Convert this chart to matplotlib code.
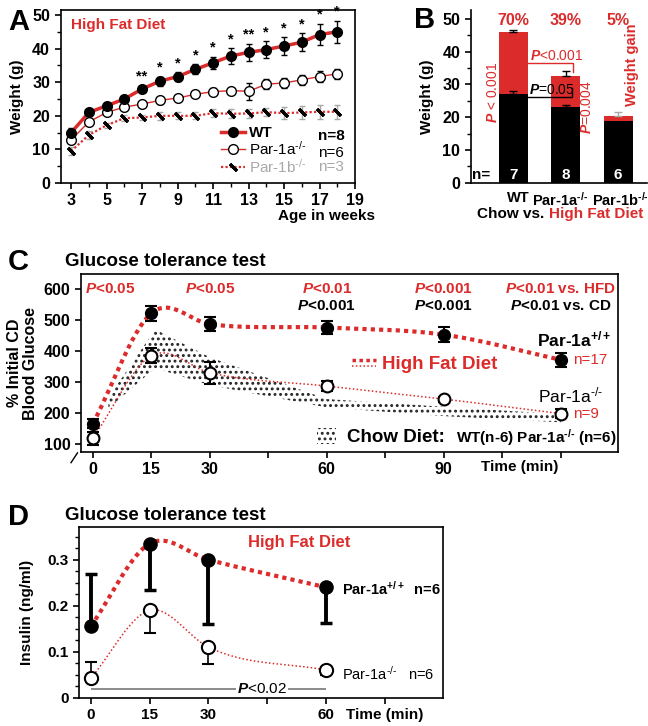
import numpy as np
import matplotlib
matplotlib.use('Agg')
import matplotlib.pyplot as plt
from matplotlib.lines import Line2D
from matplotlib.patches import Patch

plt.rcParams['font.family'] = ['Liberation Sans', 'DejaVu Sans']
plt.rcParams['font.weight'] = 'bold'
plt.rcParams['axes.labelweight'] = 'bold'
plt.rcParams['mathtext.fontset'] = 'custom'
plt.rcParams['mathtext.rm'] = 'Liberation Sans'
plt.rcParams['mathtext.it'] = 'Liberation Sans:italic'
plt.rcParams['mathtext.bf'] = 'Liberation Sans:bold'
plt.rcParams['mathtext.bfit'] = 'Liberation Sans:italic:bold'
plt.rcParams['mathtext.default'] = 'regular'
plt.rcParams['hatch.linewidth'] = 1.3
plt.rcParams['axes.linewidth'] = 1.2

RED = '#dc2b2b'
GRAY = '#a8a8a8'
KO = 'Par-1a$^{\u2010/\u2010}$'
KOB = 'Par-1b$^{\u2010/\u2010}$'
WTS = 'Par-1a$^{+/+}$'

# ---- panel A : body weight on high fat diet
weeks = [3, 4, 5, 6, 7, 8, 9, 10, 11, 12, 13, 14, 15, 16, 17, 18]
wt_w = [15.0, 21.0, 23.0, 25.0, 28.0, 30.3, 31.7, 33.8, 35.8, 37.8, 38.9, 39.7, 40.8, 41.9, 44.2, 45.0]
wt_e = [1.5, 0.8, 0.8, 0.9, 1.0, 1.3, 1.2, 1.5, 1.8, 2.3, 2.5, 2.5, 2.6, 2.7, 3.2, 3.3]
a_w = [12.8, 18.2, 21.0, 22.6, 23.5, 24.6, 25.3, 26.4, 27.2, 27.5, 27.3, 29.4, 29.8, 30.7, 31.7, 32.5]
a_e = [1.0, 1.0, 0.8, 0.7, 0.9, 1.0, 0.8, 0.8, 1.0, 0.8, 2.5, 1.5, 1.5, 1.5, 1.5, 1.5]
b_w = [9.5, 14.3, 17.2, 19.3, 19.5, 20.0, 20.0, 20.0, 20.8, 20.6, 20.7, 21.1, 20.8, 21.0, 21.2, 21.2]
b_e = [1.3, 1.2, 0.8, 0.8, 0.8, 1.2, 1.0, 1.0, 1.2, 1.3, 1.4, 1.3, 1.7, 2.0, 2.0, 2.0]
star_weeks = [7, 8, 9, 10, 11, 12, 13, 14, 15, 16, 17, 18]
star_marks = ['**', '*', '*', '*', '*', '*', '**', '*', '*', '*', '*', '*']

# ---- panel B : chow vs HFD weights
groups = ['WT', KO, KOB]
chow = [27.0, 23.0, 18.8]
chow_err = [1.0, 0.8, 0.0]
hfd = [46.0, 32.5, 20.5]
hfd_err = [0.7, 1.5, 1.1]
gain = ['70%', '39%', '5%']
n_mice = ['7', '8', '6']

# ---- panel C : glucose tolerance
t_c = [0, 15, 30, 60, 90, 120]
gtt_wt = [165, 522, 487, 476, 453, 372]
gtt_wt_e = [15, 25, 22, 22, 25, 22]
gtt_ko = [118, 385, 330, 287, 245, 198]
gtt_ko_e = [20, 25, 35, 15, 8, 15]
chow_t = [4, 16, 30, 60, 90, 120]
chow_hi = [250, 470, 380, 245, 220, 196]
chow_lo = [215, 345, 290, 218, 190, 170]

# ---- panel D : insulin
t_d = [0, 15, 30, 60]
ins_wt = [0.155, 0.335, 0.300, 0.240]
ins_wt_lo = [0.0, 0.100, 0.140, 0.078]
ins_wt_hi = [0.115, 0.0, 0.0, 0.0]
ins_ko = [0.042, 0.190, 0.110, 0.060]
ins_ko_lo = [0.0, 0.050, 0.037, 0.010]
ins_ko_hi = [0.035, 0.0, 0.0, 0.0]


def smooth(x, y):
    x = np.asarray(x, float)
    y = np.asarray(y, float)
    m = np.gradient(y, x)
    xs, ys = [], []
    t = np.linspace(0, 1, 60)
    for i in range(len(x) - 1):
        h = x[i + 1] - x[i]
        seg = ((2*t**3 - 3*t**2 + 1)*y[i] + (t**3 - 2*t**2 + t)*h*m[i]
               + (-2*t**3 + 3*t**2)*y[i + 1] + (t**3 - t**2)*h*m[i + 1])
        xs.append(x[i] + t*h)
        ys.append(seg)
    return np.concatenate(xs), np.concatenate(ys)


W, H = 648, 726
fig = plt.figure(figsize=(W/100, H/100), dpi=100)


def box(l, t, r, b):
    return [l/W, 1 - b/H, (r - l)/W, (b - t)/H]


def px(x, y):
    return x/W, 1 - y/H


# ================= A
ax = fig.add_axes(box(60.5, 10, 355, 183))
ax.errorbar(weeks, b_w, yerr=b_e, fmt='none', ecolor=GRAY, elinewidth=1, capsize=2.5)
ax.errorbar(weeks, a_w, yerr=a_e, fmt='none', ecolor='k', elinewidth=1, capsize=2.5)
ax.errorbar(weeks, wt_w, yerr=wt_e, fmt='none', ecolor='k', elinewidth=1, capsize=2.5)
hb, = ax.plot(weeks, b_w, ls=(0, (1, 1)), lw=1.6, color=RED, marker=(2, 2, 45),
              ms=7, mec='k', mew=2.2, label=KOB)
ha, = ax.plot(weeks, a_w, '-', lw=1, color=RED, marker='o', ms=7, mfc='white',
              mec='k', mew=1, label=KO)
hw, = ax.plot(weeks, wt_w, '-', lw=2.5, color=RED, marker='o', ms=7, mfc='k',
              mec='k', label='WT')
for wk, mk in zip(star_weeks, star_marks):
    i = weeks.index(wk)
    ax.text(wk, wt_w[i] + wt_e[i] + 0.6, mk, ha='center', va='bottom', fontsize=10.5)
ax.set_xlim(2.4, 19)
ax.set_ylim(0, 51.5)
ax.set_xticks(range(3, 20, 2))
ax.set_xticks(range(4, 19, 2), minor=True)
ax.set_yticks(range(0, 51, 10))
ax.set_yticks(range(5, 51, 10), minor=True)
ax.tick_params(direction='out', length=4, width=1.2, labelsize=11.5)
ax.tick_params(which='minor', direction='out', length=3, width=1)
ax.set_ylabel('Weight (g)', fontsize=11, labelpad=6)
ax.text(0.035, 0.89, 'High Fat Diet', color=RED, fontsize=11, transform=ax.transAxes)
leg = ax.legend(handles=[hw, ha, hb], loc='upper left', bbox_to_anchor=(0.545, 0.33),
                frameon=False, fontsize=11, handlelength=1.6, handletextpad=0.2,
                labelspacing=0.0, borderpad=0, borderaxespad=0)
lt = leg.get_texts()
lt[1].set_fontweight('normal')
lt[2].set_fontweight('normal')
lt[2].set_color(GRAY)
ax.text(0.874, 0.272, 'n=8', transform=ax.transAxes, fontsize=11, va='center')
ax.text(0.874, 0.175, 'n=6', transform=ax.transAxes, fontsize=11, va='center',
        fontweight='normal')
ax.text(0.874, 0.095, 'n=3', transform=ax.transAxes, fontsize=11, va='center',
        fontweight='normal', color=GRAY)
fig.text(*px(327, 216), 'Age in weeks', ha='center', va='center', fontsize=11)

# ================= B
ax = fig.add_axes(box(470.7, 10, 647, 182.7))
x = np.arange(len(groups))
ax.bar(x, hfd, 0.55, color=RED)
ax.bar(x, chow, 0.55, color='k')
for i in range(len(groups)):
    ec = GRAY if i == 2 else 'k'
    ax.errorbar(x[i], hfd[i], yerr=[[0], [hfd_err[i]]], fmt='none', ecolor=ec,
                elinewidth=1, capsize=3)
    if chow_err[i] > 0:
        ax.errorbar(x[i], chow[i], yerr=[[0], [chow_err[i]]], fmt='none', ecolor='k',
                    elinewidth=1, capsize=3)
    ax.text(x[i], 49.6, gain[i], color=RED, ha='center', va='center', fontsize=11.5)
    ax.text(x[i], 2.4, n_mice[i], color='white', ha='center', va='center', fontsize=11)
ax.text(-0.78, 2.4, 'n=', ha='left', va='center', fontsize=11)
ax.text(2.27, 36, 'Weight gain', color=RED, rotation=90, ha='center', va='center',
        fontsize=10.5)
ax.text(-0.38, 27.6, r'$\mathit{P}$ < 0.001', color=RED, rotation=90, ha='center',
        va='center', fontsize=10, fontweight='normal')
ax.plot([0.28, 1.14, 1.14], [36.5, 36.5, 33.8], color=RED, lw=1)
ax.text(0.82, 38.7, r'$\mathit{P}$<0.001', color=RED, ha='center', va='center',
        fontsize=10, fontweight='normal')
ax.plot([0.28, 1.13, 1.13], [26.1, 26.1, 29.0], color='k', lw=1)
ax.text(0.74, 28.2, r'$\mathit{P}$=0.05', color='k', ha='center', va='center',
        fontsize=10, fontweight='normal')
ax.text(1.40, 23, r'$\mathit{P}$=0.004', color=RED, rotation=90, ha='center',
        va='center', fontsize=10, fontweight='normal')
ax.set_xlim(-0.81, 2.55)
ax.set_ylim(0, 52.7)
ax.set_xticks([0.1, 0.9, 2.04])
ax.set_xticklabels(groups)
ax.set_yticks(range(0, 51, 10))
ax.set_yticks(range(5, 51, 10), minor=True)
ax.spines['top'].set_visible(False)
ax.spines['right'].set_visible(False)
ax.tick_params(axis='x', length=0, labelsize=10.5, pad=6)
ax.tick_params(axis='y', direction='out', length=4, width=1.2, labelsize=11.5)
ax.tick_params(which='minor', direction='out', length=3, width=1)
ax.set_ylabel('Weight (g)', fontsize=11, labelpad=6)
fig.text(*px(477, 214), 'Chow vs.', ha='left', va='center', fontsize=11)
fig.text(*px(643, 214), 'High Fat Diet', ha='right', va='center', fontsize=11,
         color=RED)

# ================= C
ax = fig.add_axes(box(80.7, 274.3, 617.7, 452))
ax.fill_between(chow_t, chow_lo, chow_hi, facecolor='none', edgecolor='#222222',
                hatch='...', linewidth=0)
sx, sy = smooth(t_c, gtt_wt)
ax.plot(sx, sy, color=RED, lw=3, ls=(0, (1, 1)))
sx, sy = smooth(t_c, gtt_ko)
ax.plot(sx, sy, color=RED, lw=1.1, ls=(0, (1, 1.5)))
ax.errorbar(t_c, gtt_wt, yerr=gtt_wt_e, fmt='o', color='k', ms=8.5, mfc='k',
            elinewidth=1.5, capsize=4, capthick=1.5)
ax.errorbar(t_c, gtt_ko, yerr=gtt_ko_e, fmt='o', color='k', ms=8.5, mfc='white',
            mew=1.5, elinewidth=1.5, capsize=4, capthick=1.5)
ax.set_xlim(-3.1, 134.6)
ax.set_ylim(74, 648)
ax.set_xticks(range(0, 121, 15))
ax.set_xticklabels(['0', '15', '30', '', '60', '', '90', '', ''])
ax.set_yticks(range(100, 601, 100))
ax.tick_params(direction='out', length=4, width=1.2, labelsize=11.5)
ax.set_ylabel('% Initial CD\nBlood Glucose', fontsize=11.5, linespacing=1.05, labelpad=4)
fig.text(*px(520, 467), 'Time (min)', ha='center', va='center', fontsize=11)
pv_red = [r'$\mathbfit{P}$<0.05', r'$\mathbfit{P}$<0.05', r'$\mathbfit{P}$<0.01',
          r'$\mathbfit{P}$<0.001', r'$\mathbfit{P}$<0.01 vs. HFD']
pv_red_x = [-2, 30, 60, 90, 120]
pv_blk = [r'$\mathbfit{P}$<0.001', r'$\mathbfit{P}$<0.001', r'$\mathbfit{P}$<0.01 vs. CD']
pv_blk_x = [60, 90, 120]
for s, xx in zip(pv_red, pv_red_x):
    ax.text(xx, 600, s, color=RED, ha='left' if xx < 0 else 'center', va='center',
            fontsize=11)
for s, xx in zip(pv_blk, pv_blk_x):
    ax.text(xx, 544, s, color='k', ha='center', va='center', fontsize=11)
ax.text(113.9, 436, WTS, fontsize=12.5, va='center')
ax.text(123.2, 372, 'n=17', fontsize=11, va='center', color=RED, fontweight='normal')
ax.text(114.2, 258, KO, fontsize=12.5, va='center', fontweight='normal')
ax.text(123.2, 197, 'n=9', fontsize=11, va='center', color=RED, fontweight='normal')


class TwoLines:
    def legend_artist(self, legend, orig_handle, fontsize, handlebox):
        x0, y0 = handlebox.xdescent, handlebox.ydescent
        w, h = handlebox.width, handlebox.height
        l1 = Line2D([x0, x0 + w], [y0 + h*0.7]*2, ls=(0, (1, 1)), lw=2.5, color=RED)
        l2 = Line2D([x0, x0 + w], [y0 + h*0.25]*2, ls=(0, (1, 1.5)), lw=1.1, color=RED)
        handlebox.add_artist(l1)
        handlebox.add_artist(l2)
        return l1


hfd_key = Line2D([], [], color=RED)
leg1 = ax.legend(handles=[hfd_key], labels=['High Fat Diet'], loc='center left',
                 bbox_to_anchor=(0.505, 0.49), frameon=False, fontsize=13.5,
                 handlelength=1.3, handletextpad=0.3, borderpad=0, borderaxespad=0,
                 handler_map={Line2D: TwoLines()})
leg1.get_texts()[0].set_color(RED)
ax.add_artist(leg1)
chow_key = Patch(facecolor='white', edgecolor='#222222', hatch='...', linewidth=0)
ax.legend(handles=[chow_key], labels=['Chow Diet:'], loc='center left',
          bbox_to_anchor=(0.44, 0.084), frameon=False, fontsize=13.5, handlelength=1.0,
          handleheight=0.9, handletextpad=0.6, borderpad=0, borderaxespad=0)
ax.text(0.698, 0.084, 'WT(n-6) ' + KO + ' (n=6)', transform=ax.transAxes,
        fontsize=11, va='center')
ax.plot([-0.018, -0.006], [-0.06, -0.005], transform=ax.transAxes, color='k', lw=1,
        clip_on=False)

# ================= D
ax = fig.add_axes(box(79.3, 526.7, 443.3, 697.7))
sx, sy = smooth(t_d, ins_wt)
ax.plot(sx, sy, color=RED, lw=3, ls=(0, (1, 1)))
sx, sy = smooth(t_d, ins_ko)
ax.plot(sx, sy, color=RED, lw=1.1, ls=(0, (1, 1.5)))
ax.errorbar(t_d, ins_wt, yerr=[ins_wt_lo, ins_wt_hi], fmt='o', color='k', ms=9.5,
            mfc='k', elinewidth=2.8, capsize=4.5, capthick=2.5)
ax.errorbar(t_d, ins_ko, yerr=[ins_ko_lo, ins_ko_hi], fmt='o', color='k', ms=9.5,
            mfc='white', mew=1.5, elinewidth=1.2, capsize=4, capthick=1.2)
ax.hlines(0.018, 0, 60, color='#777777', lw=1.2)
ax.text(43.6, 0.018, r'$\mathit{P}$<0.02', ha='center', va='center', fontsize=11,
        fontweight='normal', bbox=dict(facecolor='white', edgecolor='none', pad=0.5))
ax.set_xlim(-2.9, 89.8)
ax.set_ylim(0, 0.372)
ax.set_xticks(range(0, 76, 15))
ax.set_xticklabels(['0', '15', '30', '', '60', 'Time (min)'])
ax.set_yticks([0, 0.1, 0.2, 0.3])
ax.set_yticklabels(['0', '0.1', '0.2', '0.3'])
ax.set_yticks(np.arange(0.025, 0.37, 0.025), minor=True)
ax.tick_params(direction='out', length=4, width=1.2, labelsize=11)
ax.tick_params(which='minor', direction='out', length=3, width=1)
ax.set_ylabel('Insulin (ng/ml)', fontsize=11, labelpad=10)
ax.text(40, 0.338, 'High Fat Diet', color=RED, fontsize=12, va='center')
ax.text(63.9, 0.2376, WTS + '  n=6', fontsize=10.5, va='center')
ax.text(63.9, 0.052, KO + '   n=6', fontsize=10.5, va='center', fontweight='normal')

# titles and panel letters
fig.text(*px(65, 262), 'Glucose tolerance test', fontsize=13.5, va='center')
fig.text(*px(65, 515), 'Glucose tolerance test', fontsize=13.5, va='center')
for letter, (lx, ly) in zip('ABCD', [(8, 22), (414, 20), (8, 262), (8, 517)]):
    fig.text(*px(lx, ly), letter, fontsize=21, va='center', ha='left')

fig.savefig('out.png', dpi=100)
